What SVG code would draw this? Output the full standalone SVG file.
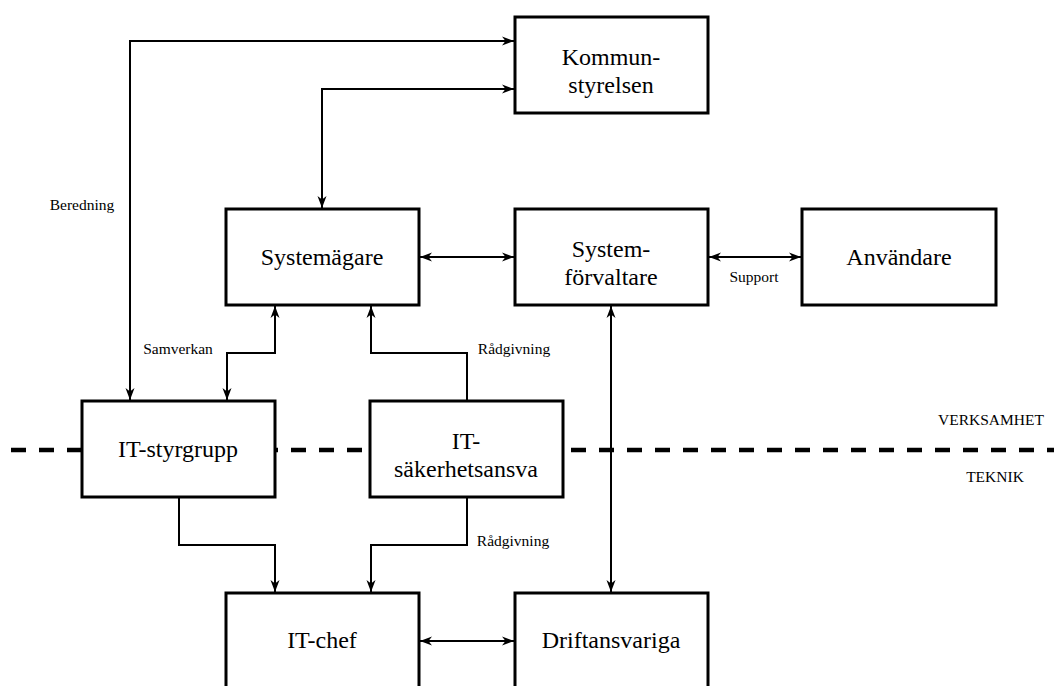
<svg xmlns="http://www.w3.org/2000/svg" width="1054" height="686" viewBox="0 0 1054 686">
<style>
.box{fill:#fff;stroke:#000;stroke-width:3}
.node{font-family:'Liberation Serif','Times New Roman',serif;font-size:24px;fill:#000;text-anchor:middle}
.lbl{font-family:'Liberation Serif','Times New Roman',serif;font-size:15.5px;fill:#000;text-anchor:middle}
.con{fill:none;stroke:#000;stroke-width:2}
.bi{marker-start:url(#ah);marker-end:url(#ah)}
.one{marker-end:url(#ah)}
.divider{stroke:#000;stroke-width:4.5;stroke-dasharray:15 13;fill:none}
</style>
<defs>
<marker id="ah" markerUnits="userSpaceOnUse" viewBox="-1 -6 14 12" refX="12" refY="0" markerWidth="14" markerHeight="12" orient="auto-start-reverse">
<path d="M0,-4.5 L12,0 L0,4.5 L3.5,0 Z" fill="#000"/>
</marker>
</defs>
<rect width="1054" height="686" fill="#fff"/>
<line class="divider" x1="11" y1="450" x2="1054" y2="450"/>
<g id="connectors">
<path class="con bi" d="M130,400 V41 H514"/>
<path class="con bi" d="M514,89 H322 V208"/>
<path class="con bi" d="M420,257 H514"/>
<path class="con bi" d="M709,257 H801"/>
<path class="con bi" d="M275,306 V353 H227 V400"/>
<path class="con one" d="M467,401 V353 H371 V306"/>
<path class="con bi" d="M611,306 V592"/>
<path class="con one" d="M179,497 V545 H275 V592"/>
<path class="con one" d="M467,497 V545 H371 V592"/>
<path class="con bi" d="M420,641 H514"/>
</g>
<g id="kommunstyrelsen">
<rect class="box" x="515" y="17" width="193" height="96"/>
<text class="node" x="611" y="65">Kommun-</text>
<text class="node" x="611" y="93">styrelsen</text>
</g>
<g id="systemagare">
<rect class="box" x="226" y="209" width="193" height="96"/>
<text class="node" x="322" y="265">Systemägare</text>
</g>
<g id="systemforvaltare">
<rect class="box" x="515" y="209" width="193" height="96"/>
<text class="node" x="611" y="257">System-</text>
<text class="node" x="611" y="285">förvaltare</text>
</g>
<g id="anvandare">
<rect class="box" x="802" y="209" width="194" height="96"/>
<text class="node" x="899" y="265">Användare</text>
</g>
<g id="it-styrgrupp">
<rect class="box" x="82" y="401" width="193" height="96"/>
<text class="node" x="178" y="457">IT-styrgrupp</text>
</g>
<g id="it-sakerhetsansvarig">
<rect class="box" x="370" y="401" width="193" height="96"/>
<text class="node" x="466" y="449">IT-</text>
<text class="node" x="466" y="477">säkerhetsansva</text>
</g>
<g id="it-chef">
<rect class="box" x="226" y="593" width="193" height="96"/>
<text class="node" x="322" y="648">IT-chef</text>
</g>
<g id="driftansvariga">
<rect class="box" x="515" y="593" width="193" height="96"/>
<text class="node" x="611" y="648">Driftansvariga</text>
</g>
<g id="labels">
<text class="lbl" x="82" y="210">Beredning</text>
<text class="lbl" x="178" y="354">Samverkan</text>
<text class="lbl" x="514" y="354">Rådgivning</text>
<text class="lbl" x="513" y="546">Rådgivning</text>
<text class="lbl" x="754" y="282">Support</text>
<text class="lbl" x="991" y="425">VERKSAMHET</text>
<text class="lbl" x="995" y="482">TEKNIK</text>
</g>
</svg>
